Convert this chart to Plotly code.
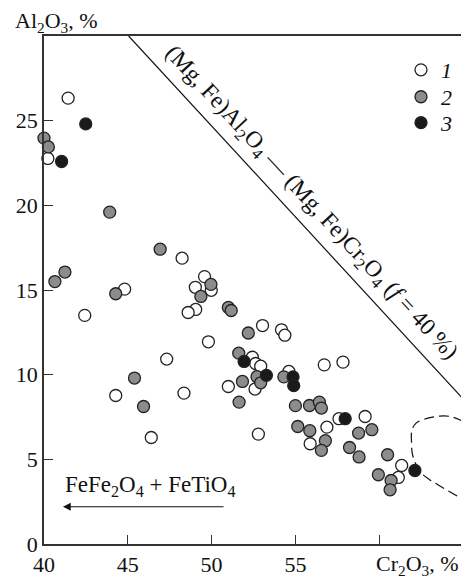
import plotly.graph_objects as go

# ---- data (Cr2O3 %, Al2O3 %) ----
open_cr = [41.44, 40.23, 48.24, 49.58, 49.03, 49.98, 44.81, 42.43, 49.05, 48.60,
           53.04, 54.17, 54.37, 49.81, 47.32, 52.43, 52.63, 52.93, 56.72, 57.84,
           54.61, 44.28, 46.40, 48.35, 51.00, 52.59, 52.79, 55.88, 56.88, 57.60,
           59.16, 61.34, 61.14]
open_al = [26.33, 22.77, 16.88, 15.79, 15.16, 14.98, 15.05, 13.50, 13.85, 13.67,
           12.90, 12.65, 12.33, 11.94, 10.92, 11.03, 10.66, 10.50, 10.58, 10.74,
           10.19, 8.77, 6.29, 8.91, 9.30, 9.15, 6.49, 5.92, 6.90, 7.40,
           7.53, 4.64, 3.93]

gray_cr = [40.00, 40.26, 43.92, 46.93, 41.25, 40.65, 49.96, 49.36, 44.28, 51.00,
           51.17, 52.19, 51.62, 52.71, 52.93, 51.84, 51.64, 54.31, 45.40, 45.94,
           55.00, 55.84, 56.43, 56.55, 55.14, 55.86, 56.79, 56.55, 58.77, 59.56,
           58.23, 58.80, 60.50, 59.95, 60.71, 60.65]
gray_al = [23.97, 23.45, 19.60, 17.41, 16.06, 15.50, 15.33, 14.62, 14.78, 13.97,
           13.79, 12.46, 11.27, 9.88, 9.52, 9.60, 8.38, 9.87, 9.80, 8.12,
           8.17, 8.18, 8.38, 8.03, 6.94, 6.69, 6.10, 5.53, 6.55, 6.75,
           5.70, 5.14, 5.27, 4.09, 3.75, 3.20]

black_cr = [42.49, 41.05, 51.94, 53.27, 54.86, 54.90, 57.97, 62.13]
black_al = [24.81, 22.59, 10.78, 9.96, 9.87, 9.35, 7.40, 4.34]

# boundary line (f = 40 %)
line_cr = [45.05, 65.0]
line_al = [30.0, 8.58]

# dashed field outline
field_cr = [65.0, 64.3, 63.6, 62.8, 62.2, 61.95, 61.93, 61.97, 62.15, 62.52,
            63.0, 63.5, 64.1, 64.7, 65.0]
field_al = [7.24, 7.52, 7.55, 7.40, 7.14, 6.70, 5.96, 5.37, 4.80, 4.19,
            3.80, 3.50, 3.15, 2.81, 2.67]

x_ticks = [40, 45, 50, 55, 60, 65]
x_ticktext = ["40", "45", "50", "55", "", ""]
y_ticks = [0, 5, 10, 15, 20, 25]

FONT = "Liberation Serif"
EDGE = "#222222"

fig = go.Figure()

fig.add_trace(go.Scatter(x=line_cr, y=line_al, mode="lines",
                         line=dict(color="#111111", width=1.2),
                         showlegend=False, hoverinfo="skip"))
fig.add_trace(go.Scatter(x=field_cr, y=field_al, mode="lines",
                         line=dict(color="#111111", width=1.2, dash="10px,5px",
                                   shape="spline"),
                         showlegend=False, hoverinfo="skip"))

fig.add_trace(go.Scatter(x=open_cr, y=open_al, mode="markers", name="<i>1</i>",
                         cliponaxis=False, legend="legend",
                         marker=dict(size=12, color="white",
                                     line=dict(color=EDGE, width=1.3))))
fig.add_trace(go.Scatter(x=gray_cr, y=gray_al, mode="markers", name="<i>2</i>",
                         cliponaxis=False, legend="legend2",
                         marker=dict(size=12, color="#8c8c8c",
                                     line=dict(color=EDGE, width=1.3))))
fig.add_trace(go.Scatter(x=black_cr, y=black_al, mode="markers", name="<i>3</i>",
                         cliponaxis=False, legend="legend3",
                         marker=dict(size=12, color="#1a1a1a",
                                     line=dict(color=EDGE, width=1.3))))

axis_common = dict(showgrid=False, zeroline=False, showline=True, mirror=True,
                   linecolor="#333333", linewidth=1.5, ticks="inside",
                   ticklen=9, tickwidth=1.2, tickcolor="#333333",
                   tickfont=dict(family=FONT, size=22, color="#111111"))

fig.update_xaxes(range=[40, 65], tickvals=x_ticks, ticktext=x_ticktext,
                 **axis_common)
fig.update_yaxes(range=[0, 30], tickvals=y_ticks, **axis_common)


def legend_box(ypos):
    return dict(x=0.852, y=ypos, xanchor="left", yanchor="middle",
                bgcolor="rgba(0,0,0,0)", font=dict(family=FONT, size=22),
                itemwidth=30)


# page body has an 8px margin, so the figure is sized/margined to compensate
fig.update_layout(
    width=461, height=573,
    margin=dict(l=36, r=4, t=28, b=37),
    paper_bgcolor="white", plot_bgcolor="white",
    font=dict(family=FONT, size=22, color="#111111"),
    legend=legend_box(0.933),
    legend2=legend_box(0.880),
    legend3=legend_box(0.829),
    annotations=[
        dict(text="Al<sub>2</sub>O<sub>3</sub>, %", xref="paper", yref="paper",
             x=-0.075, y=1.027, xanchor="left", yanchor="middle",
             showarrow=False, font=dict(family=FONT, size=22)),
        dict(text="Cr<sub>2</sub>O<sub>3</sub>, %", xref="paper", yref="paper",
             x=0.891, y=-0.041, xanchor="center", yanchor="middle",
             showarrow=False, font=dict(family=FONT, size=22)),
        dict(text="(Mg, Fe)Al<sub>2</sub>O<sub>4</sub> — (Mg, Fe)Cr<sub>2</sub>O<sub>4</sub> (<i>f</i> = 40 %)",
             xref="x", yref="y", x=55.91, y=20.15, textangle=47.2,
             showarrow=False, font=dict(family=FONT, size=23.5)),
        dict(text="FeFe<sub>2</sub>O<sub>4</sub> + FeTiO<sub>4</sub>",
             xref="x", yref="y", x=46.3, y=3.4, showarrow=False,
             font=dict(family=FONT, size=23)),
        dict(text="", xref="x", yref="y", axref="x", ayref="y",
             x=41.13, y=2.2, ax=50.8, ay=2.2, showarrow=True,
             arrowhead=2, arrowsize=1.3, arrowwidth=1.2, arrowcolor="#111111",
             standoff=0, startstandoff=0),
    ],
)

fig.write_html("out.html")
